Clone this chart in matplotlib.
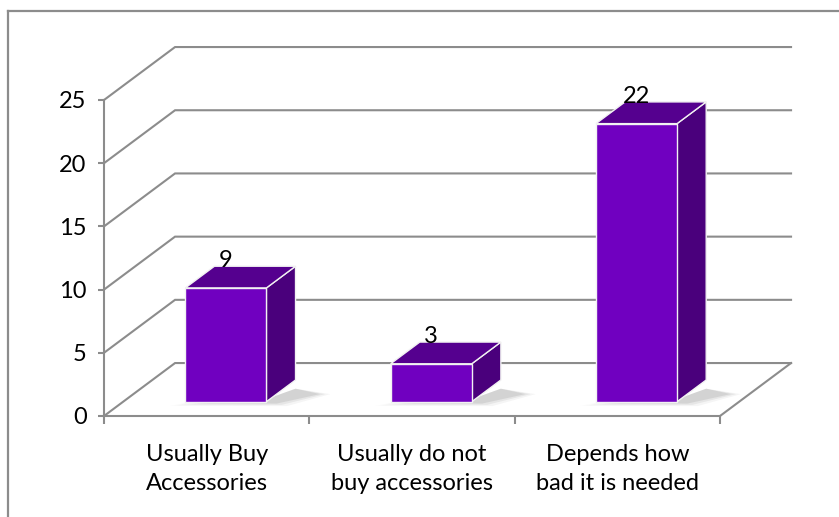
"""3D-style column chart: accessory buying habits."""
import numpy as np
import matplotlib
matplotlib.use("Agg")
import matplotlib.pyplot as plt
from matplotlib.patches import Polygon
from matplotlib.lines import Line2D

plt.rcParams["font.family"] = ["Lato", "DejaVu Sans"]

categories = ["Usually Buy\nAccessories", "Usually do not\nbuy accessories", "Depends how\nbad it is needed"]
counts = [9, 3, 22]
yticks = [0, 5, 10, 15, 20, 25]

GRID = "#8c8c8c"
FRONT = "#7000c0"
TOP = "#55008f"
SIDE = "#4a007c"

# depth of the 3D box in data units (x = categories, y = value)
DX, DY = 0.346, 4.19
D0, D1 = 0.27, 0.68     # bar depth span as fraction of the floor depth
W = 0.395               # bar width in category units

fig = plt.figure(figsize=(8.39, 5.17), dpi=100)
ax = fig.add_axes([104 / 839, 101 / 517, 616 / 839, 316 / 517])
ax.set_xlim(0, 3)
ax.set_ylim(0, 25)
ax.patch.set_alpha(0)

# outer chart border (top and left edge visible)
fig.add_artist(Line2D([8 / 839, 8 / 839], [0, 1 - 11 / 517], transform=fig.transFigure,
                      color=GRID, lw=1.6))
fig.add_artist(Line2D([8 / 839, 1], [1 - 11 / 517, 1 - 11 / 517], transform=fig.transFigure,
                      color=GRID, lw=1.6))

# back wall gridlines + side wall diagonals
for v in yticks:
    ax.plot([0, DX, 3 + DX], [v, v + DY, v + DY], color=GRID, lw=1.5,
            clip_on=False, solid_joinstyle="miter", zorder=1)
ax.plot([3, 3 + DX], [0, DY], color=GRID, lw=1.5, clip_on=False, zorder=1)

# bars
for i, v in enumerate(counts):
    x0 = i + 0.5 - W / 2 + D0 * DX
    x1 = x0 + W
    y0 = D0 * DY
    ddx, ddy = (D1 - D0) * DX, (D1 - D0) * DY
    # soft shadow just under the base, spreading to the right
    for k, a in enumerate([0.04, 0.06, 0.08]):
        g = 0.025 * (2 - k)
        sh = [(x0 - 0.03 - g, y0 - 0.12 - g * 4), (x1 + 0.05 + g, y0 - 0.15 - g * 4),
              (x1 + ddx + 0.12 + g, y0 + ddy * 0.35), (x1 + ddx, y0 + ddy * 0.6),
              (x1, y0 + 0.2)]
        ax.add_patch(Polygon(sh, closed=True, facecolor="black", edgecolor="none",
                             alpha=a, clip_on=False, zorder=2))
    front = [(x0, y0), (x1, y0), (x1, y0 + v), (x0, y0 + v)]
    top = [(x0, y0 + v), (x1, y0 + v), (x1 + ddx, y0 + v + ddy), (x0 + ddx, y0 + v + ddy)]
    side = [(x1, y0), (x1 + ddx, y0 + ddy), (x1 + ddx, y0 + v + ddy), (x1, y0 + v)]
    for pts, c in [(side, SIDE), (top, TOP), (front, FRONT)]:
        ax.add_patch(Polygon(pts, closed=True, facecolor=c, edgecolor="#f2f2f2",
                             lw=1.0, clip_on=False, zorder=3))
    ax.text((x0 + x1) / 2, y0 + v + ddy - 0.1, str(v), ha="center", va="baseline",
            fontsize=17, color="black", zorder=4)

# axes: front-left value axis and floor category axis
for s in ["top", "right"]:
    ax.spines[s].set_visible(False)
for s in ["left", "bottom"]:
    ax.spines[s].set_color(GRID)
    ax.spines[s].set_linewidth(1.5)
    ax.spines[s].set_zorder(1)

ax.set_yticks(yticks)
ax.set_yticklabels([str(t) for t in yticks])
ax.tick_params(axis="y", direction="out", length=4.5, width=1.5, color=GRID,
               labelsize=17, pad=8)
ax.set_xticks([0, 1, 2, 3])
ax.set_xticklabels([])
ax.tick_params(axis="x", which="major", direction="out", length=6, width=1.5, color=GRID)
ax.set_xticks([0.5, 1.5, 2.5], minor=True)
ax.set_xticklabels(categories, minor=True)
ax.tick_params(axis="x", which="minor", length=0, labelsize=17, pad=20)
for lbl in ax.get_xticklabels(minor=True):
    lbl.set_linespacing(1.5)

fig.savefig("out.png", dpi=100, facecolor="white")
